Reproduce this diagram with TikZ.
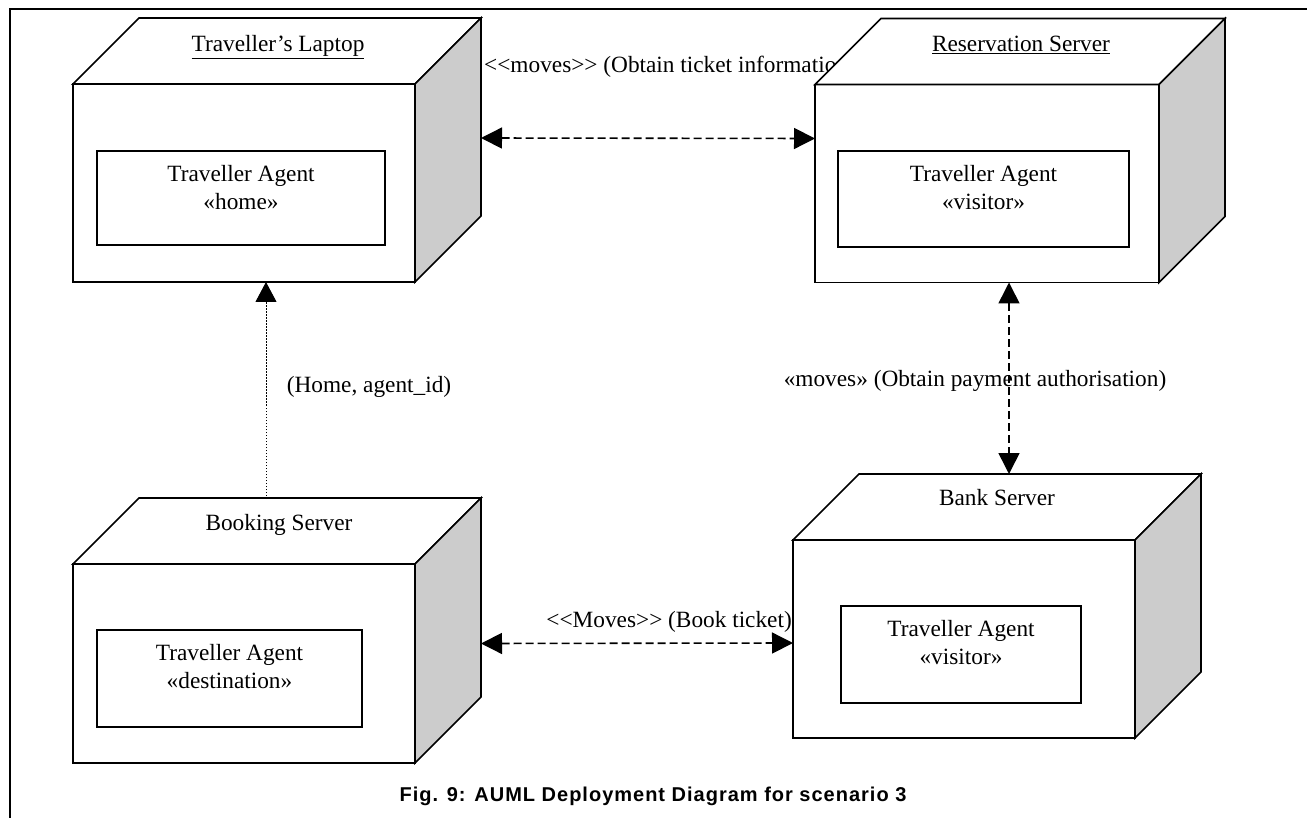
\documentclass[tikz,border=0pt]{standalone}
\usepackage{fontspec}
\setmainfont{Liberation Serif}
\newfontfamily\captionfont[LetterSpace=5]{Liberation Sans}
\usetikzlibrary{arrows.meta}

\definecolor{sidegray}{RGB}{204,204,204}

% doubled angle brackets, kept apart so they do not turn into guillemets
\newcommand\dlt{<\kern0pt<}
\newcommand\dgt{>\kern0pt>}

\tikzset{
  face/.style={draw, line width=1.6pt, fill=white, line join=miter},
  front/.style={face, inner sep=0pt, outer sep=0pt, minimum height=198pt},
  agentbox/.style={face, inner sep=0pt, outer sep=0pt},
  lbl/.style={font=\fontsize{23.3}{28}\selectfont, inner sep=0pt},
  agenttext/.style={lbl, align=center, anchor=north},
  movelink/.style={line width=1.6pt, dash pattern=on 8pt off 4pt, {Triangle[length=21pt,width=21pt]}-{Triangle[length=21pt,width=21pt]}},
  homelink/.style={line width=1pt, dash pattern=on 1.5pt off 1.5pt, -{Triangle[length=20pt,width=21pt]}},
}

% top and side faces of a deployment node, hung on its front face
\newcommand\nodefaces[1]{%
  \draw[face] (#1.north west) -- ([shift={(66,-66)}]#1.north west)
    -- ([shift={(66,-66)}]#1.north east) -- (#1.north east) -- cycle;
  \draw[face, fill=sidegray] (#1.north east) -- ([shift={(66,-66)}]#1.north east)
    -- ([shift={(66,-66)}]#1.south east) -- (#1.south east) -- cycle;
}

\begin{document}
\begin{tikzpicture}[x=1pt, y=-1pt]
  \useasboundingbox (0,0) rectangle (1307,818);
  \fill[white] (0,0) rectangle (1307,818);

  % figure frame
  \draw[line width=1.6pt] (10,818) -- (10,9) -- (1307,9);

  % label of the upper link, partly covered by the reservation node
  \node[lbl, anchor=base west] (ticketlbl) at (484,73)
    {\dlt moves\dgt\ (Obtain ticket information)};

  % Traveller's Laptop
  \node[front, minimum width=342pt] (lap) at (244,183) {};
  \nodefaces{lap}
  \node[lbl, anchor=base] (laptitle) at (278,52) {\underline{Traveller’s Laptop}};
  \node[agentbox, minimum width=288pt, minimum height=94pt] (lapagent) at (241,198) {};
  \node[agenttext] (lapagenttext) at ([yshift=-14pt]lapagent.north) {Traveller Agent\\«home»};

  % Reservation Server
  \node[front, minimum width=344pt] (res) at (987,183.5) {};
  \nodefaces{res}
  \node[lbl, anchor=base] (restitle) at (1021,52) {\underline{Reservation Server}};
  \node[agentbox, minimum width=291pt, minimum height=96pt] (resagent) at (983.5,199) {};
  \node[agenttext] (resagenttext) at ([yshift=-14pt]resagent.north) {Traveller Agent\\«visitor»};

  % Booking Server
  \node[front, minimum width=342pt, minimum height=199pt] (book) at (244,663.5) {};
  \nodefaces{book}
  \node[lbl, anchor=base] (booktitle) at (279,530) {Booking Server};
  \node[agentbox, minimum width=265pt, minimum height=97pt] (bookagent) at (229.5,678.5) {};
  \node[agenttext] (bookagenttext) at ([yshift=-14pt]bookagent.north) {Traveller Agent\\«destination»};

  % Bank Server
  \node[front, minimum width=342pt] (bank) at (964,639) {};
  \nodefaces{bank}
  \node[lbl, anchor=base] (banktitle) at (997,505) {Bank Server};
  \node[agentbox, minimum width=240pt, minimum height=97pt] (bankagent) at (961,654.5) {};
  \node[agenttext] (bankagenttext) at ([yshift=-14pt]bankagent.north) {Traveller Agent\\«visitor»};

  % links between the nodes
  \draw[movelink] ([xshift=66pt,yshift=45pt]lap.east) -- ([yshift=45pt]res.west);
  \draw[homelink] ([xshift=22pt,yshift=65pt]book.north) -- ([xshift=22pt]lap.south);
  \draw[movelink] ([xshift=22pt]res.south) -- ([xshift=45pt,yshift=66pt]bank.north);
  \draw[movelink] ([xshift=66pt,yshift=20pt]book.east) -- ([yshift=-4pt]bank.west);

  % link labels
  \node[lbl, anchor=base] (homelbl) at (369,392) {(Home, agent\_id)};
  \node[lbl, anchor=base] (paylbl) at (975,386) {«moves» (Obtain payment authorisation)};
  \node[lbl, anchor=base east] (booklbl) at (792,627)
    {\dlt Moves\dgt\ (Book ticket)};

  % caption
  \node[inner sep=0pt, anchor=base, font=\captionfont\bfseries\fontsize{20}{24}\selectfont] (caption) at (653,801)
    {Fig. 9: AUML Deployment Diagram for scenario 3};
\end{tikzpicture}
\end{document}
